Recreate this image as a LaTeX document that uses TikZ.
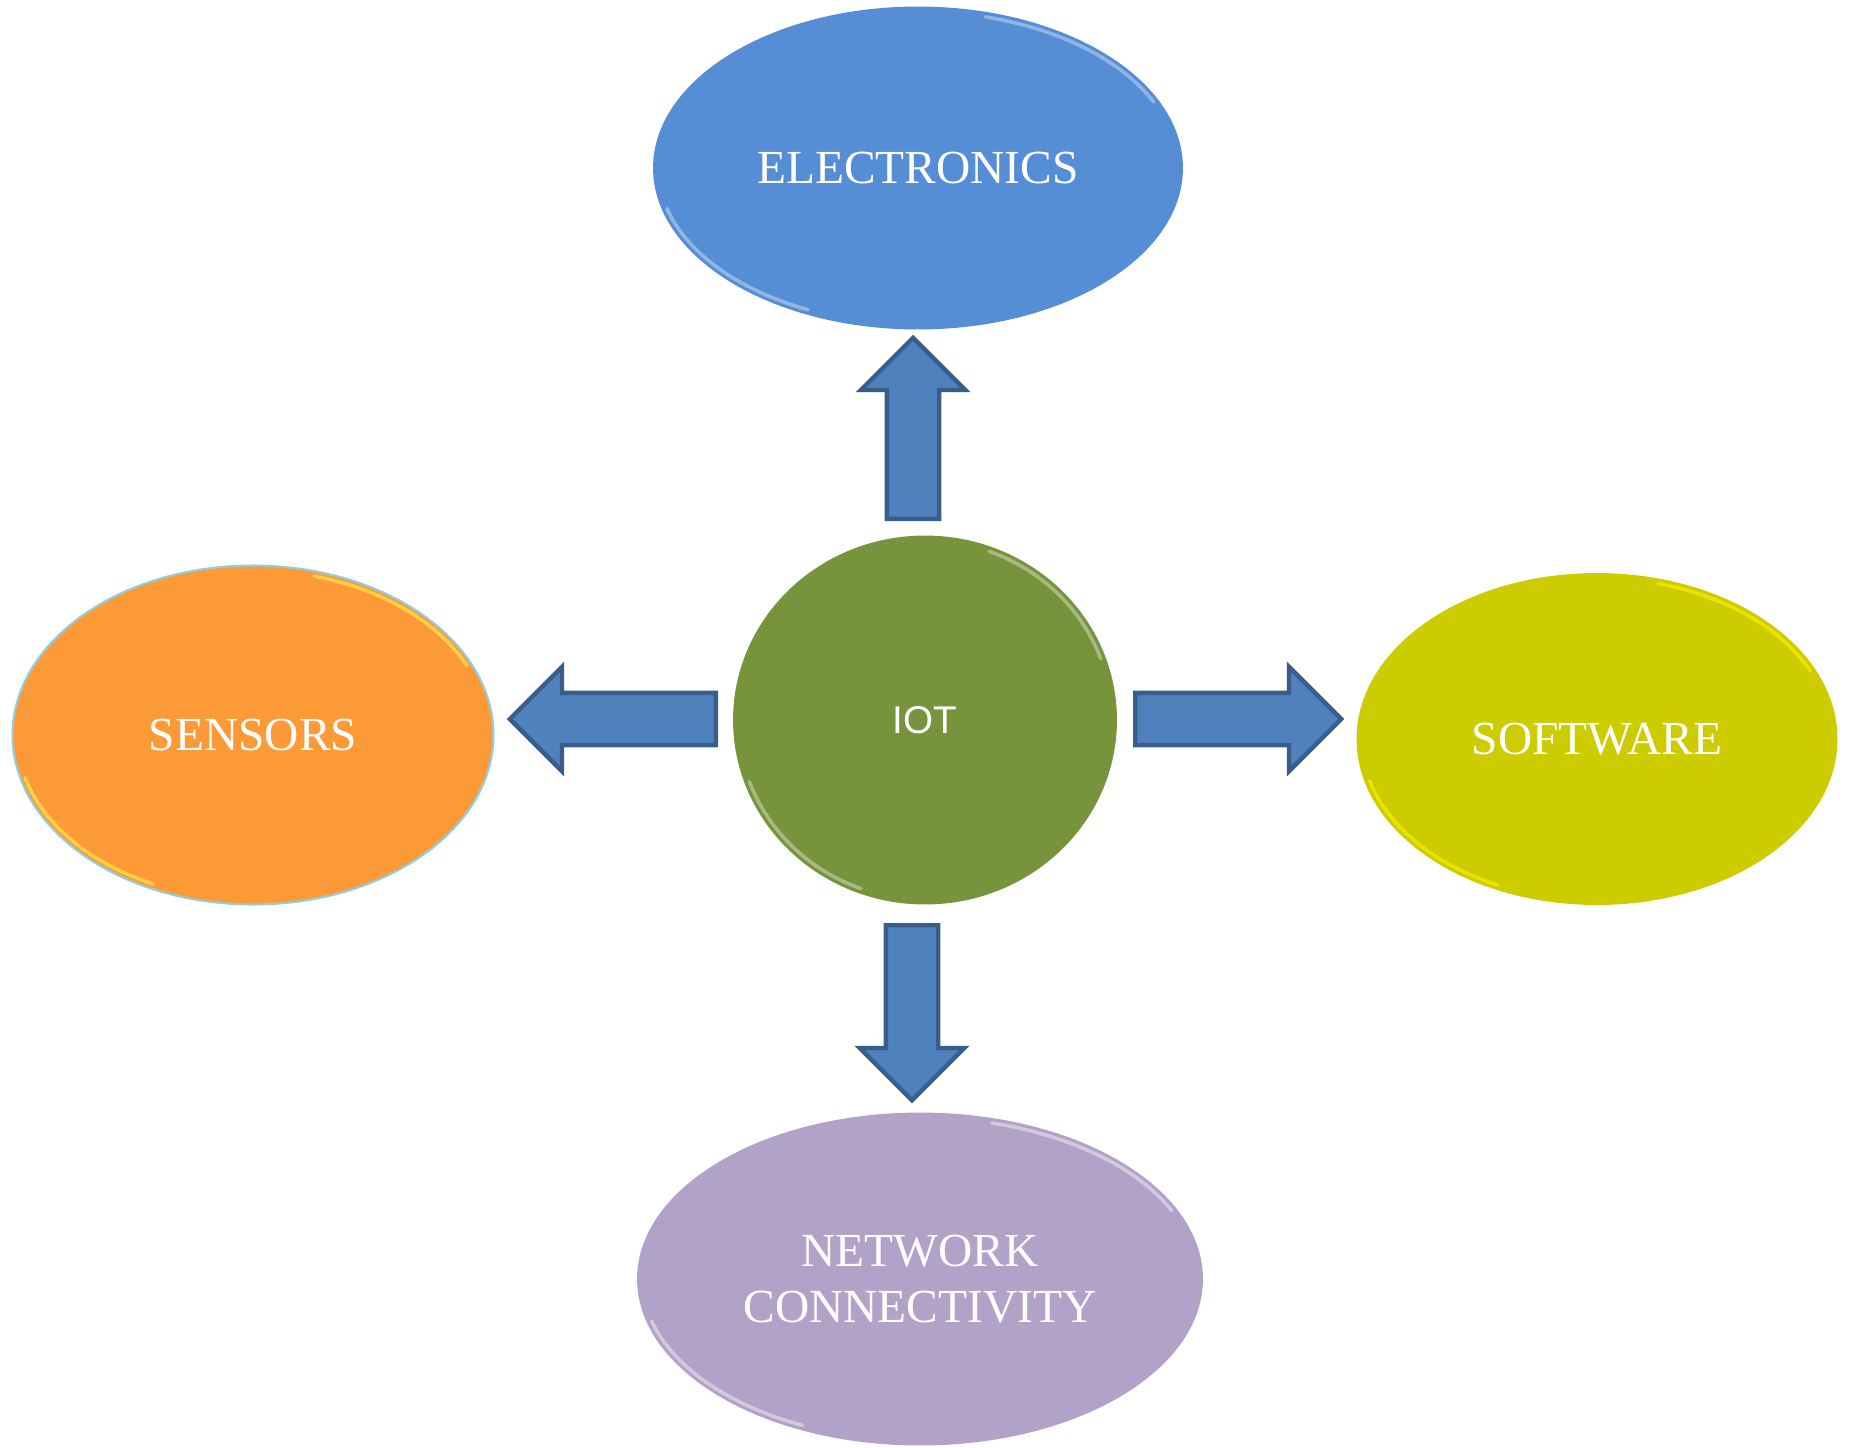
\documentclass[tikz,border=0pt]{standalone}
\usepackage{fontspec}
\setmainfont{Liberation Serif}
\newfontfamily\iotfont{Liberation Sans}
\usetikzlibrary{shapes.geometric,shapes.arrows}
\definecolor{elecblue}{HTML}{558ED5}
\definecolor{sensorange}{HTML}{FD9A38}
\definecolor{sensline}{HTML}{93CDDD}
\definecolor{softyellow}{HTML}{CCCC00}
\definecolor{netlilac}{HTML}{B3A2C7}
\definecolor{iotgreen}{HTML}{77933C}
\definecolor{arrowfill}{HTML}{4F81BD}
\definecolor{arrowline}{HTML}{385D8A}

\begin{document}
\begin{tikzpicture}[x=0.02cm, y=-0.02cm,
    bubble/.style={ellipse, inner sep=0pt, text=white, align=center,
        font=\fontsize{27}{32}\selectfont},
    glint/.style={line width=2pt, opacity=0.6, line cap=round},
    blockarrow/.style={single arrow, draw=arrowline, fill=arrowfill, line width=2.5pt,
        inner sep=0pt, inner ysep=0.48cm, single arrow head extend=0.52cm,
        single arrow tip angle=90, anchor=tail}]
        \useasboundingbox (0,0) rectangle (1849,1447);
        \node[bubble, fill=iotgreen, minimum width=7.68cm, minimum height=7.38cm,
            font=\iotfont\fontsize{22}{26}\selectfont] (iot) at (925,720) {IOT};
        \node[bubble, fill=elecblue, minimum width=10.6cm, minimum height=6.46cm] (electronics) at (918,168) {ELECTRONICS};
        \node[bubble, fill=sensorange, draw=sensline, line width=1.2pt, minimum width=9.62cm, minimum height=6.78cm] (sensors) at (253,735) {SENSORS};
        \node[bubble, fill=softyellow, minimum width=9.62cm, minimum height=6.64cm] (software) at (1597,739) {SOFTWARE};
        \node[bubble, fill=netlilac, minimum width=11.32cm, minimum height=6.66cm] (network) at (920,1279) {NETWORK\\CONNECTIVITY};
        % bevel glints on the rims
        \draw[glint, elecblue!40!white] ([shift={(25:5.2cm and 3.13cm)}]electronics.center) arc[start angle=25, end angle=75, x radius=5.2cm, y radius=3.13cm];
        \draw[glint, elecblue!40!white] ([shift={(195:5.2cm and 3.13cm)}]electronics.center) arc[start angle=195, end angle=245, x radius=5.2cm, y radius=3.13cm];
        \draw[glint, yellow!70!white] ([shift={(25:4.72cm and 3.29cm)}]sensors.center) arc[start angle=25, end angle=75, x radius=4.72cm, y radius=3.29cm];
        \draw[glint, yellow!70!white] ([shift={(195:4.72cm and 3.29cm)}]sensors.center) arc[start angle=195, end angle=245, x radius=4.72cm, y radius=3.29cm];
        \draw[glint, yellow] ([shift={(25:4.71cm and 3.22cm)}]software.center) arc[start angle=25, end angle=75, x radius=4.71cm, y radius=3.22cm];
        \draw[glint, yellow] ([shift={(195:4.71cm and 3.22cm)}]software.center) arc[start angle=195, end angle=245, x radius=4.71cm, y radius=3.22cm];
        \draw[glint, netlilac!30!white] ([shift={(25:5.56cm and 3.23cm)}]network.center) arc[start angle=25, end angle=75, x radius=5.56cm, y radius=3.23cm];
        \draw[glint, netlilac!30!white] ([shift={(195:5.56cm and 3.23cm)}]network.center) arc[start angle=195, end angle=245, x radius=5.56cm, y radius=3.23cm];
        \draw[glint, iotgreen!40!white] ([shift={(20:3.74cm and 3.59cm)}]iot.center) arc[start angle=20, end angle=70, x radius=3.74cm, y radius=3.59cm];
        \draw[glint, iotgreen!40!white] ([shift={(200:3.74cm and 3.59cm)}]iot.center) arc[start angle=200, end angle=250, x radius=3.74cm, y radius=3.59cm];
        % block arrows from the hub
        \node[blockarrow, minimum height=3.62cm, rotate=90] (toelec) at (913,521) {};
        \node[blockarrow, minimum height=4.12cm, rotate=180] (tosens) at (718,719) {};
        \node[blockarrow, minimum height=4.12cm] (tosoft) at (1133,719) {};
        \node[blockarrow, minimum height=3.5cm, rotate=-90] (tonet) at (912,923) {};
    \end{tikzpicture}
\end{document}
